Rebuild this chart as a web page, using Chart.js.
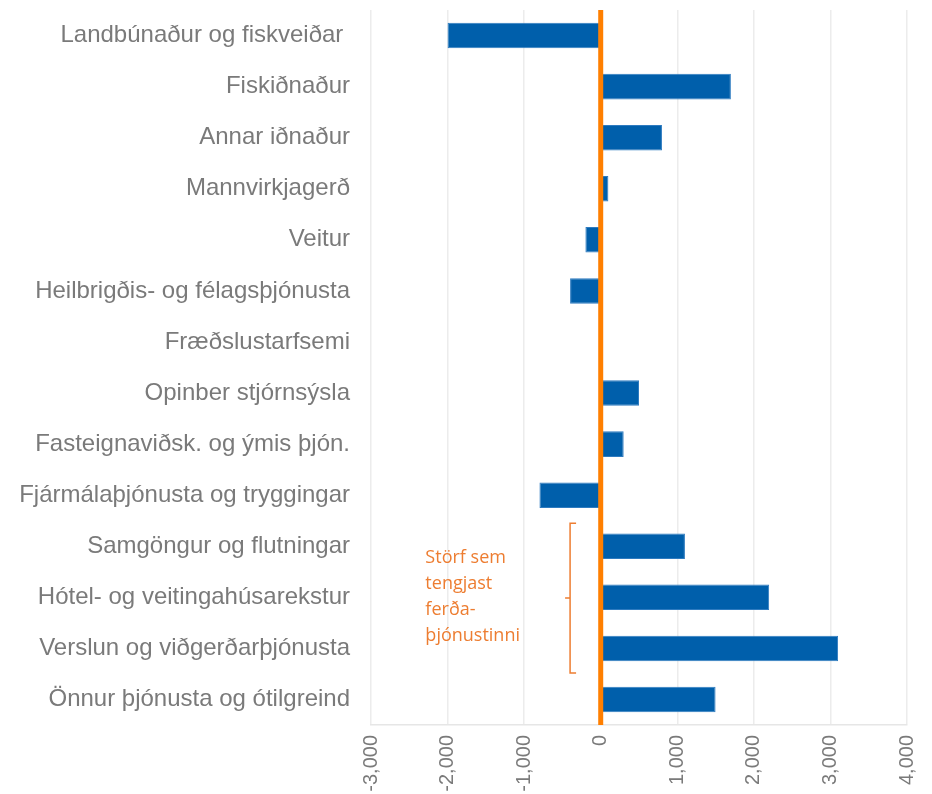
<!DOCTYPE html>
<html>
<head>
<meta charset="utf-8">
<script src="https://cdn.jsdelivr.net/npm/chart.js@4"></script>
<style>
  html, body { margin: 0; padding: 0; background: #fff; }
  #wrap { width: 932px; height: 794px; }
</style>
</head>
<body>
<div id="wrap"><canvas id="chart"></canvas></div>
<script>
const categories = [
  'Landbúnaður og fiskveiðar ',
  'Fiskiðnaður',
  'Annar iðnaður',
  'Mannvirkjagerð',
  'Veitur',
  'Heilbrigðis- og félagsþjónusta',
  'Fræðslustarfsemi',
  'Opinber stjórnsýsla',
  'Fasteignaviðsk. og ýmis þjón.',
  'Fjármálaþjónusta og tryggingar',
  'Samgöngur og flutningar',
  'Hótel- og veitingahúsarekstur',
  'Verslun og viðgerðarþjónusta',
  'Önnur þjónusta og ótilgreind'
];
const changes = [-2000, 1700, 800, 100, -200, -400, 0, 500, 300, -800, 1100, 2200, 3100, 1500];
const xTicks = [-3000, -2000, -1000, 0, 1000, 2000, 3000, 4000];
const noteLines = ['Störf sem', 'tengjast', 'ferða-', 'þjónustinni'];
const noteFirst = 10, noteLast = 12; // bracket spans these categories

const grey = '#7a7a7a';

// orange zero line + bracket with note
const overlay = {
  id: 'overlay',
  afterDatasetsDraw(chart) {
    const { ctx, chartArea, scales: { x, y } } = chart;
    ctx.save();
    // zero line
    const x0 = x.getPixelForValue(0);
    ctx.strokeStyle = '#FF7F00';
    ctx.lineWidth = 5;
    ctx.beginPath();
    ctx.moveTo(x0, chartArea.top);
    ctx.lineTo(x0, chartArea.bottom);
    ctx.stroke();

    // bracket
    const step = y.getPixelForValue(1) - y.getPixelForValue(0);
    const top = y.getPixelForValue(noteFirst) - step * 0.45;
    const bot = y.getPixelForValue(noteLast) + step * 0.48;
    const mid = (top + bot) / 2;
    const bx = x.getPixelForValue(-400);
    ctx.strokeStyle = '#ED7D31';
    ctx.lineWidth = 1.5;
    ctx.beginPath();
    ctx.moveTo(bx + 6, top);
    ctx.lineTo(bx, top);
    ctx.lineTo(bx, bot);
    ctx.lineTo(bx + 6, bot);
    ctx.moveTo(bx, mid);
    ctx.lineTo(bx - 5, mid);
    ctx.stroke();

    // note text
    ctx.fillStyle = '#ED7D31';
    ctx.font = '18px "Open Sans"';
    ctx.textBaseline = 'middle';
    ctx.textAlign = 'left';
    const tx = x.getPixelForValue(-2290);
    const lh = 26;
    const ty = mid - lh * (noteLines.length - 1) / 2 - 1;
    noteLines.forEach((t, i) => ctx.fillText(t, tx, ty + i * lh));
    ctx.restore();
  }
};

new Chart(document.getElementById('chart'), {
  type: 'bar',
  data: {
    labels: categories,
    datasets: [{
      data: changes,
      backgroundColor: '#005FAB',
      borderColor: '#2E7BC0',
      borderWidth: 1,
      borderSkipped: false,
      barPercentage: 0.5,
      categoryPercentage: 1
    }]
  },
  options: {
    indexAxis: 'y',
    responsive: true,
    maintainAspectRatio: false,
    animation: false,
    layout: { padding: { top: 10, right: 25, bottom: 0, left: 0 } },
    plugins: { legend: { display: false }, tooltip: { enabled: false } },
    scales: {
      x: {
        min: -3000,
        max: 4000,
        afterBuildTicks: axis => { axis.ticks = xTicks.map(v => ({ value: v })); },
        afterFit: axis => {
          axis.height = 69;
          axis.paddingLeft = 0;
          axis.paddingRight = 0;
        },
        grid: { color: '#ececec', lineWidth: 1.5, drawTicks: false },
        border: { display: true, color: '#e6e6e6', width: 1.5 },
        ticks: {
          color: grey,
          font: { family: 'Liberation Sans', size: 20 },
          minRotation: 90,
          maxRotation: 90,
          padding: 10,
          callback: v => v.toLocaleString('en-US')
        }
      },
      y: {
        afterFit: axis => {
          axis.width = 371;
          axis.paddingTop = 0;
          axis.paddingBottom = 0;
        },
        grid: { display: false, drawTicks: false },
        border: { display: false },
        ticks: {
          color: grey,
          font: { family: 'Liberation Sans', size: 24 },
          padding: 21,
          autoSkip: false
        }
      }
    }
  },
  plugins: [overlay]
});
</script>
</body>
</html>
